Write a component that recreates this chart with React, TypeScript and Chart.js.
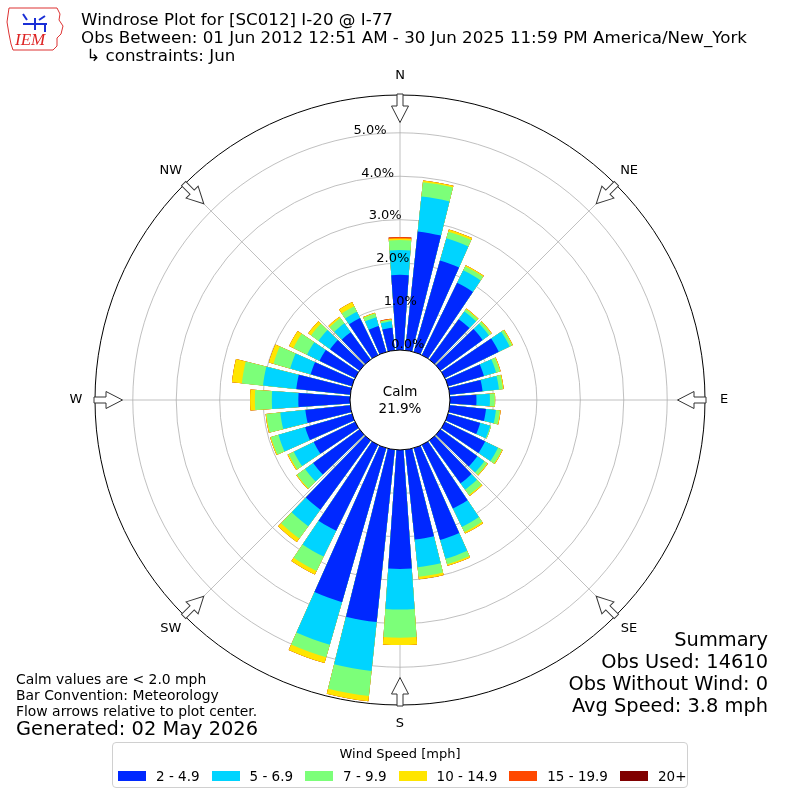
import React, { useEffect, useRef } from "react";
import { Chart, registerables } from "chart.js";

Chart.register(...registerables);

// ---------- data ----------
const directions = [0, 10, 20, 30, 40, 50, 60, 70, 80, 90, 100, 110, 120, 130, 140, 150, 160, 170,
  180, 190, 200, 210, 220, 230, 240, 250, 260, 270, 280, 290, 300, 310, 320, 330, 340, 350];

const speedBins = ["2 - 4.9", "5 - 6.9", "7 - 9.9", "10 - 14.9", "15 - 19.9", "20+"];
const binColors = ["rgb(0,40,255)", "rgb(0,212,255)", "rgb(124,255,121)", "rgb(255,229,0)", "rgb(255,72,0)", "rgb(128,0,0)"];

// percent of observations per direction, per speed bin
const bin2to5 = [1.73, 2.75, 2.19, 1.85, 1.15, 1.20, 1.38, 0.86, 0.76, 0.61, 0.84, 0.77, 1.03, 1.05, 1.22, 1.63, 2.20, 2.08,
  2.74, 3.99, 3.69, 2.20, 1.97, 1.32, 1.06, 1.12, 1.04, 1.19, 1.25, 0.99, 0.91, 0.84, 0.78, 0.95, 0.62, 0.52];
const bin5to7 = [0.57, 0.81, 0.53, 0.32, 0.22, 0.18, 0.28, 0.29, 0.38, 0.31, 0.23, 0.24, 0.33, 0.20, 0.18, 0.47, 0.45, 0.64,
  0.93, 1.13, 1.02, 0.66, 0.47, 0.23, 0.51, 0.64, 0.58, 0.61, 0.77, 0.49, 0.32, 0.33, 0.25, 0.16, 0.21, 0.15];
const bin7to10 = [0.23, 0.33, 0.16, 0.10, 0.06, 0.06, 0.06, 0.09, 0.09, 0.11, 0.09, 0.02, 0.10, 0.08, 0.15, 0.13, 0.13, 0.22,
  0.65, 0.58, 0.30, 0.37, 0.35, 0.23, 0.13, 0.18, 0.32, 0.39, 0.49, 0.40, 0.35, 0.21, 0.15, 0.14, 0.09, 0.04];
const bin10to15 = [0.04, 0.04, 0.05, 0.03, 0.02, 0.02, 0.02, 0.02, 0.02, 0.01, 0.02, 0.00, 0.02, 0.02, 0.03, 0.04, 0.04, 0.06,
  0.17, 0.12, 0.14, 0.09, 0.10, 0.02, 0.03, 0.02, 0.02, 0.11, 0.23, 0.11, 0.11, 0.08, 0.04, 0.11, 0.02, 0.01];
const bin15to20 = [0.03, 0, 0, 0, 0, 0, 0, 0, 0, 0, 0, 0, 0, 0, 0, 0, 0, 0,
  0, 0, 0, 0, 0, 0, 0, 0, 0, 0, 0, 0, 0, 0, 0, 0, 0, 0.01];
const bin20plus = [0, 0, 0, 0, 0, 0, 0, 0, 0, 0, 0, 0, 0, 0, 0, 0, 0, 0,
  0, 0, 0, 0, 0, 0, 0, 0, 0, 0, 0, 0, 0, 0, 0, 0, 0, 0];

const compassLabels = ["N", "NE", "E", "SE", "S", "SW", "W", "NW"];
const ringValues = [0, 1, 2, 3, 4, 5];
const radialMin = -1.15;
const radialMax = 5.87;
const calmPercent = 21.9;

const titleLines = [
  "Windrose Plot for [SC012] I-20 @ I-77",
  "Obs Between: 01 Jun 2012 12:51 AM - 30 Jun 2025 11:59 PM America/New_York",
  " \u21B3 constraints: Jun",
];
const summaryLines = ["Summary", "Obs Used: 14610", "Obs Without Wind: 0", "Avg Speed: 3.8 mph"];
const noteLines = ["Calm values are < 2.0 mph", "Bar Convention: Meteorology", "Flow arrows relative to plot center."];
const generatedText = "Generated: 02 May 2026";
const legendTitle = "Wind Speed [mph]";

// ---------- geometry constants ----------
const sectorDeg = 360 / directions.length;
const barDeg = 8;
const FONT = "'DejaVu Sans', 'Liberation Sans', sans-serif";

function expandSectors(values: number[]) {
  // N bar split in two halves so the sequence starts exactly at North
  const data: number[] = [];
  const angles: number[] = [];
  const gaps: boolean[] = [];
  data.push(values[0]); angles.push(barDeg / 2); gaps.push(false);
  for (let d = 1; d < values.length; d++) {
    data.push(0); angles.push(sectorDeg - barDeg); gaps.push(true);
    data.push(values[d]); angles.push(barDeg); gaps.push(false);
  }
  data.push(0); angles.push(sectorDeg - barDeg); gaps.push(true);
  data.push(values[0]); angles.push(barDeg / 2); gaps.push(false);
  return { data, angles, gaps };
}

function buildDatasets() {
  const series = [bin2to5, bin5to7, bin7to10, bin10to15, bin15to20, bin20plus];
  let cum = directions.map(() => 0);
  return series.map((vals, k) => {
    cum = cum.map((c, i) => c + vals[i]);
    const { data, angles, gaps } = expandSectors(cum);
    return {
      label: speedBins[k],
      data,
      angle: (ctx: any) => angles[ctx.dataIndex],
      backgroundColor: (ctx: any) => (gaps[ctx.dataIndex] ? "rgba(0,0,0,0)" : binColors[k]),
      borderWidth: 0,
    };
  });
}

const roseDecor = {
  id: "roseDecor",
  afterDraw(chart: any) {
    const scale = chart.scales.r;
    const ctx = chart.ctx;
    const cx = scale.xCenter;
    const cy = scale.yCenter;
    const outer = scale.drawingArea;
    const hole = scale.getDistanceFromCenterForValue(0);
    ctx.save();
    // calm hole
    ctx.beginPath();
    ctx.arc(cx, cy, hole, 0, Math.PI * 2);
    ctx.fillStyle = "#fff";
    ctx.fill();
    ctx.lineWidth = 1;
    ctx.strokeStyle = "#000";
    ctx.stroke();
    ctx.fillStyle = "#000";
    ctx.font = `13.5px ${FONT}`;
    ctx.textAlign = "center";
    ctx.textBaseline = "middle";
    ctx.fillText("Calm", cx, cy - 8);
    ctx.fillText(calmPercent.toFixed(1) + "%", cx, cy + 9);
    // ring labels
    const la = (-10 * Math.PI) / 180;
    ctx.font = `13px ${FONT}`;
    ctx.textAlign = "left";
    ctx.textBaseline = "bottom";
    ringValues.forEach((v) => {
      const r = scale.getDistanceFromCenterForValue(v);
      ctx.fillText(v.toFixed(1) + "%", cx + r * Math.sin(la), cy - r * Math.cos(la));
    });
    // compass labels + flow arrows
    compassLabels.forEach((lab, i) => {
      const p = scale.getPointPosition(i, outer + 19);
      ctx.fillStyle = "#000";
      ctx.textAlign = "center";
      ctx.textBaseline = "middle";
      ctx.fillText(lab, p.x, p.y);
      const ang = scale.getIndexAngle(i) - Math.PI / 2;
      ctx.save();
      ctx.translate(cx, cy);
      ctx.rotate(ang);
      ctx.beginPath();
      ctx.moveTo(outer - 27.5, 0);
      ctx.lineTo(outer - 11, -8.5);
      ctx.lineTo(outer - 11, -3);
      ctx.lineTo(outer + 1, -3);
      ctx.lineTo(outer + 1, 3);
      ctx.lineTo(outer - 11, 3);
      ctx.lineTo(outer - 11, 8.5);
      ctx.closePath();
      ctx.fillStyle = "#fff";
      ctx.fill();
      ctx.strokeStyle = "#333";
      ctx.lineWidth = 1;
      ctx.stroke();
      ctx.restore();
    });
    ctx.restore();
  },
};

function Logo() {
  return (
    <svg width="62" height="50" style={{ position: "absolute", left: 5, top: 4 }}>
      <path d="M4 4 L52 4 L55 10 L54 16 L58 22 L56 30 L52 34 L52 42 L48 46 L8 46 L6 40 L4 30 L2 18 Z"
        fill="none" stroke="#d33" strokeWidth="1" />
      <path d="M18 10 L22 16 M18 20 L42 20 M30 14 L30 26 M34 16 L40 12 M40 20 L40 28" stroke="#1a2fd6" strokeWidth="2" fill="none" />
      <text x="10" y="41" fill="#d22" fontStyle="italic" fontFamily="'Liberation Serif', serif" fontSize="17">IEM</text>
    </svg>
  );
}

export default function App() {
  const canvasRef = useRef<HTMLCanvasElement | null>(null);

  useEffect(() => {
    if (!canvasRef.current) return;
    const chart = new Chart(canvasRef.current, {
      type: "polarArea",
      data: { labels: compassLabels, datasets: buildDatasets() as any },
      options: {
        responsive: false,
        maintainAspectRatio: false,
        animation: false,
        events: [],
        layout: { padding: 95 },
        plugins: { legend: { display: false }, tooltip: { enabled: false }, title: { display: false } },
        scales: {
          r: {
            type: "radialLinear",
            min: radialMin,
            max: radialMax,
            startAngle: 0,
            z: 1,
            beginAtZero: false,
            ticks: { display: false },
            afterBuildTicks: (scale: any) => {
              scale.ticks = [radialMin, ...ringValues, radialMax].map((v) => ({ value: v }));
            },
            grid: {
              circular: true,
              color: (ctx: any) =>
                ctx.tick && ctx.tick.value === radialMax ? "#000" : ctx.tick && ctx.tick.value < 0 ? "rgba(0,0,0,0)" : "#b0b0b0",
              lineWidth: (ctx: any) => (ctx.tick && ctx.tick.value === radialMax ? 1 : 0.8),
            },
            angleLines: { display: true, color: "#b0b0b0", lineWidth: 0.8 },
            pointLabels: { display: false },
          } as any,
        },
      } as any,
      plugins: [roseDecor],
    });
    return () => chart.destroy();
  }, []);

  return (
    <div style={{ position: "fixed", left: 0, top: 0, width: 800, height: 800, background: "#fff", fontFamily: FONT, color: "#000" }}>
      <canvas ref={canvasRef} width={800} height={800} style={{ position: "absolute", left: 0, top: 0, width: 800, height: 800 }} />
      <Logo />
      <div style={{ position: "absolute", left: 81, top: 10, fontSize: 16.7, lineHeight: "18px", whiteSpace: "pre" }}>
        {titleLines.map((t, i) => (
          <div key={i}>{t}</div>
        ))}
      </div>
      <div style={{ position: "absolute", right: 32, top: 629, fontSize: 19.4, lineHeight: "22px", textAlign: "right", whiteSpace: "nowrap" }}>
        {summaryLines.map((t, i) => (
          <div key={i}>{t}</div>
        ))}
      </div>
      <div style={{ position: "absolute", left: 16, top: 671, fontSize: 13.9, lineHeight: "16px", whiteSpace: "nowrap" }}>
        {noteLines.map((t, i) => (
          <div key={i}>{t}</div>
        ))}
      </div>
      <div style={{ position: "absolute", left: 16, top: 717, fontSize: 19.4, lineHeight: "24px", whiteSpace: "nowrap" }}>{generatedText}</div>
      <div style={{ position: "absolute", left: 112, top: 742, width: 574, height: 44, border: "1px solid #d0d0d0", borderRadius: 4, background: "#fff" }}>
        <div style={{ position: "absolute", left: 0, right: 0, top: 3, textAlign: "center", fontSize: 13, lineHeight: "16px" }}>{legendTitle}</div>
        <div style={{ position: "absolute", left: 5, top: 24, display: "flex", alignItems: "center", fontSize: 13.5, lineHeight: "18px", whiteSpace: "nowrap" }}>
          {speedBins.map((b, i) => (
            <div key={b} style={{ display: "flex", alignItems: "center", marginRight: i < speedBins.length - 1 ? 12 : 0 }}>
              <span style={{ display: "inline-block", width: 28, height: 10, background: binColors[i], marginRight: 10 }} />
              <span>{b}</span>
            </div>
          ))}
        </div>
      </div>
    </div>
  );
}
